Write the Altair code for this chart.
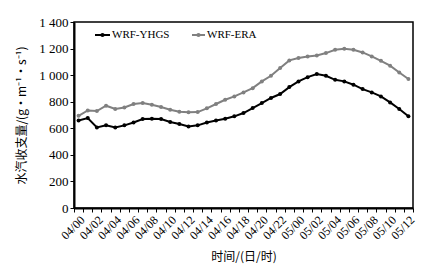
import json
import altair as alt
import pandas as pd

times = ["04/00", "04/01", "04/02", "04/03", "04/04", "04/05", "04/06", "04/07",
         "04/08", "04/09", "04/10", "04/11", "04/12", "04/13", "04/14", "04/15",
         "04/16", "04/17", "04/18", "04/19", "04/20", "04/21", "04/22", "04/23",
         "05/00", "05/01", "05/02", "05/03", "05/04", "05/05", "05/06", "05/07",
         "05/08", "05/09", "05/10", "05/11", "05/12"]
shown_labels = times[::2]
y_ticks = [0, 200, 400, 600, 800, 1000, 1200, 1400]

series_names = ["WRF-YHGS", "WRF-ERA"]
series_colors = ["#000000", "#808080"]

yhgs = [659, 677, 606, 622, 606, 622, 644, 670, 672, 670, 647, 632, 614, 622,
        644, 659, 672, 690, 715, 752, 790, 828, 858, 910, 953, 985, 1008, 995,
        965, 953, 928, 895, 870, 840, 795, 745, 690]
era = [694, 734, 730, 770, 745, 757, 783, 790, 777, 760, 740, 725, 720, 722,
       750, 783, 815, 840, 870, 902, 953, 995, 1053, 1111, 1129, 1141, 1148,
       1166, 1191, 1199, 1191, 1171, 1141, 1108, 1071, 1020, 971]

df = pd.DataFrame({
    "time": times * 2,
    "series": [series_names[0]] * len(times) + [series_names[1]] * len(times),
    "value": yhgs + era,
})

serif = "Liberation Serif"
cjk = "Noto Sans CJK SC"

color = alt.Color("series:N", scale=alt.Scale(domain=series_names, range=series_colors), legend=None)

x_enc = alt.X(
    "time:O", sort=times,
    scale=alt.Scale(type="band", paddingInner=0, paddingOuter=0),
    axis=alt.Axis(
        title="时间/(日/时)", titleFont=cjk, titleFontSize=12, titleFontWeight="normal",
        titleColor="#000", titlePadding=10,
        labelExpr="indexof(%s, datum.value) >= 0 ? datum.value : ''" % json.dumps(shown_labels),
        labelAngle=-45, labelFont=serif, labelFontSize=12, labelColor="#000",
        labelPadding=2, labelOverlap=False,
        tickBand="extent", tickSize=4, tickColor="#000", tickWidth=1,
        domainColor="#000", domainWidth=2, grid=False,
    ),
)
y_enc = alt.Y(
    "value:Q",
    scale=alt.Scale(domain=[0, 1400], nice=False, zero=True),
    axis=alt.Axis(
        title="水汽收支量/(g·m⁻¹·s⁻¹)", titleFont=cjk, titleFontSize=12,
        titleFontWeight="normal", titleColor="#000", titlePadding=10,
        values=y_ticks, tickCount=8,
        labelExpr="replace(format(datum.value, ','), ',', ' ')",
        labelFont=serif, labelFontSize=13, labelColor="#000", labelOverlap=False,
        labelPadding=2, labelBound=False,
        tickSize=4, tickColor="#000", tickWidth=1,
        domainColor="#000", domainWidth=2, grid=False,
    ),
)

base = alt.Chart(df).encode(x=x_enc, y=y_enc, color=color)
lines = base.mark_line(strokeWidth=2)
points = base.mark_point(filled=True, size=16, opacity=1)

leg_df = pd.DataFrame({"series": series_names})
legend_layers = []
leg_pos = [(21, 36), (118, 131)]
for name, (x0, x1) in zip(series_names, leg_pos):
    d = leg_df[leg_df["series"] == name]
    lb = alt.Chart(d)
    legend_layers.append(lb.mark_rule(strokeWidth=2).encode(
        x=alt.value(x0), x2=alt.value(x1), y=alt.value(13), color=color))
    legend_layers.append(lb.mark_point(filled=True, size=18, opacity=1).encode(
        x=alt.value((x0 + x1) / 2), y=alt.value(13), color=color))
    legend_layers.append(lb.mark_text(align="left", baseline="middle", font=serif,
                                      fontSize=11, color="#000").encode(
        x=alt.value(x1 + 2), y=alt.value(13), text="series:N"))

chart = alt.layer(lines, points, *legend_layers).properties(
    width=339, height=186,
    autosize=alt.AutoSizeParams(type="none"),
    padding={"left": 66, "top": 14, "right": 16, "bottom": 61},
    background="white",
).configure_view(stroke="#000", strokeWidth=1.5)

chart.save("out.html", embed_options={"renderer": "svg", "actions": False})
